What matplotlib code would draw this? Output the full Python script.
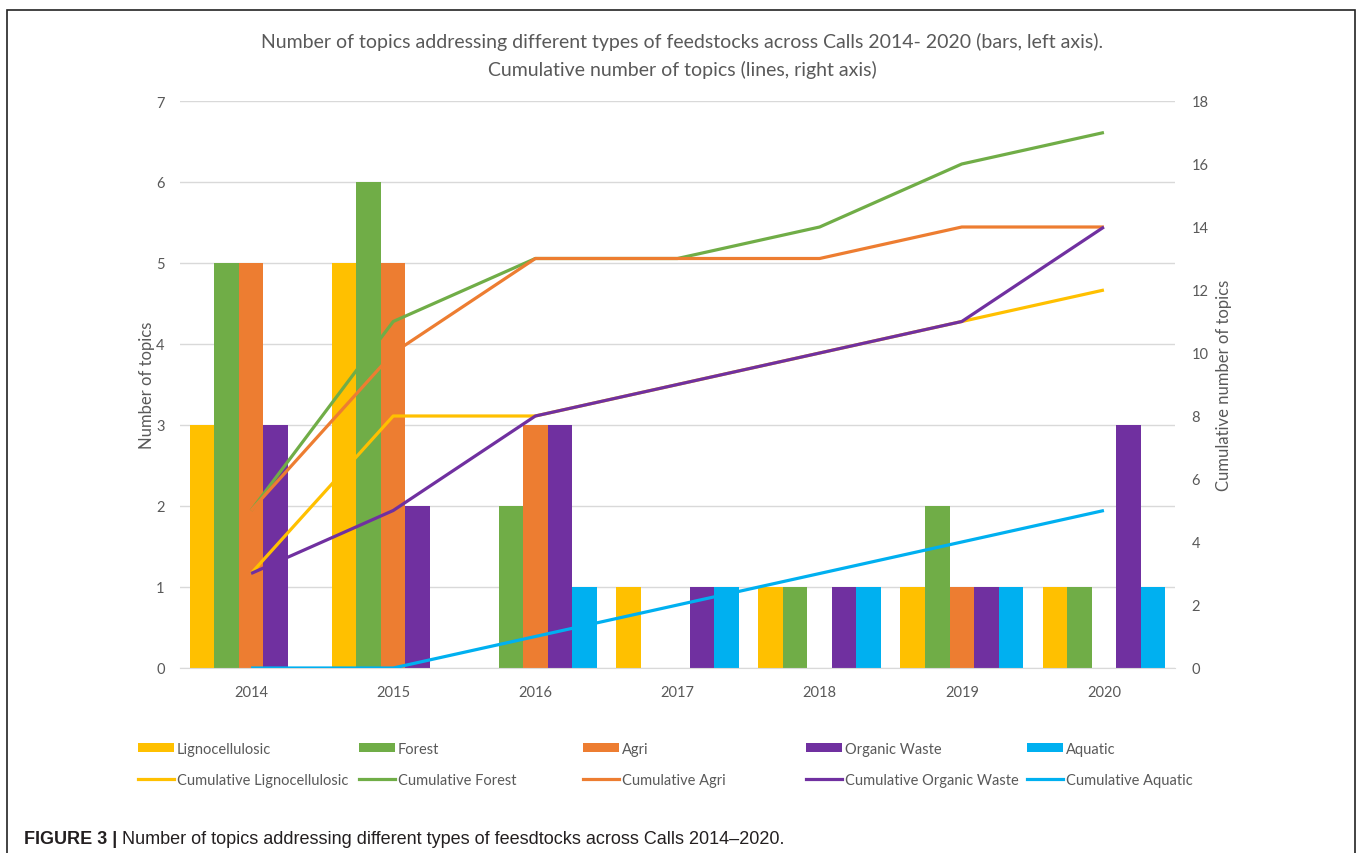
import numpy as np
import matplotlib.pyplot as plt
from matplotlib.patches import Patch, Rectangle
from matplotlib.lines import Line2D

plt.rcParams['font.family'] = ['Lato', 'DejaVu Sans']

years = ['2014', '2015', '2016', '2017', '2018', '2019', '2020']
series = ['Lignocellulosic', 'Forest', 'Agri', 'Organic Waste', 'Aquatic']
colors = ['#FFC000', '#70AD47', '#ED7D31', '#7030A0', '#00B0F0']

lignocellulosic = [3, 5, 0, 1, 1, 1, 1]
forest = [5, 6, 2, 0, 1, 2, 1]
agri = [5, 5, 3, 0, 0, 1, 0]
organic_waste = [3, 2, 3, 1, 1, 1, 3]
aquatic = [0, 0, 1, 1, 1, 1, 1]

cum_lignocellulosic = [3, 8, 8, 9, 10, 11, 12]
cum_forest = [5, 11, 13, 13, 14, 16, 17]
cum_agri = [5, 10, 13, 13, 13, 14, 14]
cum_organic_waste = [3, 5, 8, 9, 10, 11, 14]
cum_aquatic = [0, 0, 1, 2, 3, 4, 5]

bars = [lignocellulosic, forest, agri, organic_waste, aquatic]
cums = [cum_lignocellulosic, cum_forest, cum_agri, cum_organic_waste, cum_aquatic]

W, H = 1360, 854
fig = plt.figure(figsize=(13.6, 8.54), dpi=100)
ax = fig.add_axes([180 / W, 1 - 669 / H, 995 / W, 567 / H])
ax2 = ax.twinx()

x = np.arange(len(years))
w = 0.1725
for i, (vals, c) in enumerate(zip(bars, colors)):
    ax.bar(x + (i - 2) * w, vals, w, color=c, zorder=2)

for vals, c in zip(cums, colors):
    ax2.plot(x, vals, color=c, lw=2.3, solid_capstyle='butt', zorder=3)

tick_col = '#595959'
ax.set_xlim(-0.5, 6.5)
ax.set_ylim(0, 7)
ax.set_yticks(range(0, 8))
ax.set_xticks(x)
ax.set_xticklabels(years)
ax.grid(axis='y', color='#D9D9D9', lw=1, zorder=0)
ax2.set_ylim(0, 18)
ax2.set_yticks(range(0, 19, 2))

for a in (ax, ax2):
    for s in a.spines.values():
        s.set_visible(False)
    a.tick_params(length=0, colors=tick_col, labelsize=10.5)
ax.spines['bottom'].set_visible(True)
ax.spines['bottom'].set_color('#D9D9D9')
ax.tick_params(axis='y', pad=11)
ax.tick_params(axis='x', pad=12)
ax2.tick_params(axis='y', pad=12)

ax.set_ylabel('Number of topics', color=tick_col, fontsize=12, labelpad=1)
ax2.set_ylabel('Cumulative number of topics', color=tick_col, fontsize=12, labelpad=5)

fig.text(682 / W, 1 - 42 / H, 'Number of topics addressing different types of feedstocks across Calls 2014- 2020 (bars, left axis).',
         ha='center', va='center', fontsize=14, color=tick_col)
fig.text(682 / W, 1 - 70 / H, 'Cumulative number of topics (lines, right axis)',
         ha='center', va='center', fontsize=14, color=tick_col)

# legend, one entry at a time to follow the original layout
col_x = [138, 359, 583, 806, 1027]
for name, c, px in zip(series, colors, col_x):
    h = Patch(facecolor=c, edgecolor='none')
    fig.legend(handles=[h], labels=[name], loc='center left', bbox_to_anchor=(px / W, 1 - 750 / H),
               frameon=False, handlelength=2.5, handleheight=0.55, handletextpad=0.15,
               borderpad=0, borderaxespad=0, fontsize=10.5, labelcolor=tick_col)
    h = Line2D([], [], color=c, lw=2.3)
    fig.legend(handles=[h], labels=['Cumulative ' + name], loc='center left', bbox_to_anchor=(px / W, 1 - 781 / H),
               frameon=False, handlelength=2.5, handletextpad=0.15,
               borderpad=0, borderaxespad=0, fontsize=10.5, labelcolor=tick_col)

cap_font = ['Liberation Sans', 'DejaVu Sans']
t1 = fig.text(24 / W, 1 - 840 / H, 'FIGURE 3 |', ha='left', va='center', fontsize=13,
              fontweight='bold', family=cap_font, color='#231F20')
bb = t1.get_window_extent(renderer=fig.canvas.get_renderer())
fig.text(bb.x1 / W + 5 / W, 1 - 840 / H,
         'Number of topics addressing different types of feesdtocks across Calls 2014\u20132020.',
         ha='left', va='center', fontsize=13, family=cap_font, color='#231F20')

fig.patches.append(Rectangle((7 / W, -0.02), 1348 / W, 1.02 - 11 / H, transform=fig.transFigure,
                             fill=False, edgecolor='#222222', lw=1.2))

fig.savefig('out.png', dpi=100)
